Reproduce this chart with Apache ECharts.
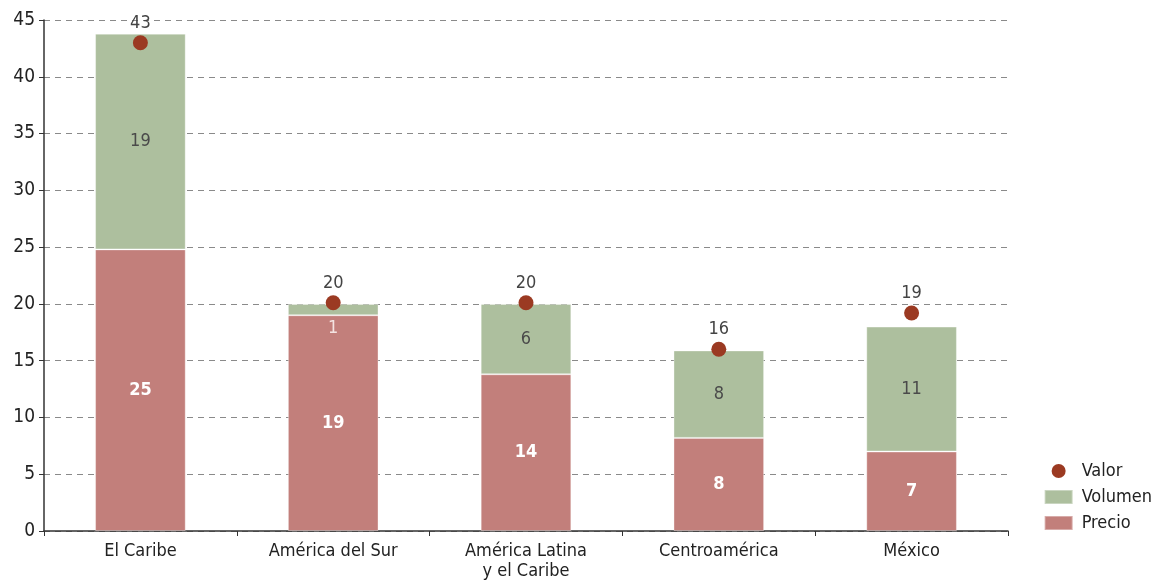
<!DOCTYPE html>
<html>
<head>
<meta charset="utf-8">
<script src="https://cdn.jsdelivr.net/npm/echarts@6/dist/echarts.min.js"></script>
<style>
  html, body { margin: 0; padding: 0; background: #fff; }
  #main { width: 1157px; height: 585px; }
</style>
</head>
<body>
<div id="main"></div>
<script>
// datos
const categories = ['El Caribe', 'América del Sur', 'América Latina\ny el Caribe', 'Centroamérica', 'México'];
const precio = [24.8, 19.0, 13.8, 8.2, 7.0];
const volumen = [19.0, 1.0, 6.2, 7.7, 11.0];
const valor = [43.0, 20.1, 20.1, 16.0, 19.2];
const yTicks = [0, 5, 10, 15, 20, 25, 30, 35, 40, 45];

const FONT = '"Liberation Sans Narrow", "DejaVu Sans Condensed", "Roboto", sans-serif';
const round = (p) => Math.round(p.value);

const chart = echarts.init(document.getElementById('main'));
chart.setOption({
  animation: false,
  textStyle: { fontFamily: FONT },
  grid: { left: 44, right: 149, top: 20, bottom: 54 },
  legend: {
    orient: 'vertical',
    right: 0,
    bottom: 48,
    itemGap: 8,
    itemWidth: 28,
    itemHeight: 14,
    textStyle: { fontFamily: FONT, fontSize: 18, color: '#222', padding: [0, 0, 0, 4] },
    data: [
      { name: 'Valor', icon: 'circle', itemStyle: { borderWidth: 0, opacity: 1 } },
      { name: 'Volumen', icon: 'rect' },
      { name: 'Precio', icon: 'rect' },
    ],
  },
  xAxis: {
    type: 'category',
    data: categories,
    axisLine: { lineStyle: { color: '#333', width: 1.5 } },
    axisTick: { show: true, length: 5, lineStyle: { color: '#333' } },
    axisLabel: { fontFamily: FONT, fontSize: 18, color: '#222', lineHeight: 20, margin: 10 },
  },
  yAxis: {
    type: 'value',
    min: yTicks[0],
    max: yTicks[yTicks.length - 1],
    interval: 5,
    axisLine: { show: true, lineStyle: { color: '#333', width: 1.5 } },
    axisTick: { show: true, length: 5, lineStyle: { color: '#333' } },
    axisLabel: { fontFamily: FONT, fontSize: 19, color: '#222', margin: 9 },
    splitLine: { lineStyle: { color: '#8a8a8a', type: [6, 5], width: 1 } },
  },
  series: [
    {
      name: 'Precio',
      type: 'bar',
      stack: 'total',
      barWidth: '47%',
      itemStyle: { color: '#c27f7b', borderColor: 'rgba(255,255,255,0.35)', borderWidth: 1 },
      label: {
        show: true,
        position: 'inside',
        formatter: round,
        color: '#fff',
        fontWeight: 'bold',
        fontSize: 18,
        fontFamily: FONT,
      },
      data: precio,
    },
    {
      name: 'Volumen',
      type: 'bar',
      stack: 'total',
      itemStyle: { color: '#adbf9e', borderColor: 'rgba(255,255,255,0.35)', borderWidth: 1 },
      label: {
        show: true,
        position: 'inside',
        formatter: round,
        color: '#4a4a4a',
        fontSize: 18,
        fontFamily: FONT,
      },
      data: volumen.map((v) =>
        v < 2
          ? { value: v, label: { position: 'bottom', distance: 4, color: '#f4e4e2' } }
          : v
      ),
    },
    {
      name: 'Valor',
      type: 'scatter',
      symbol: 'circle',
      symbolSize: 15,
      itemStyle: { color: '#9b3a22', opacity: 1 },
      z: 5,
      label: {
        show: true,
        position: 'top',
        distance: 3,
        formatter: round,
        color: '#444',
        fontSize: 18,
        fontFamily: FONT,
      },
      data: valor,
    },
  ],
});
</script>
</body>
</html>
